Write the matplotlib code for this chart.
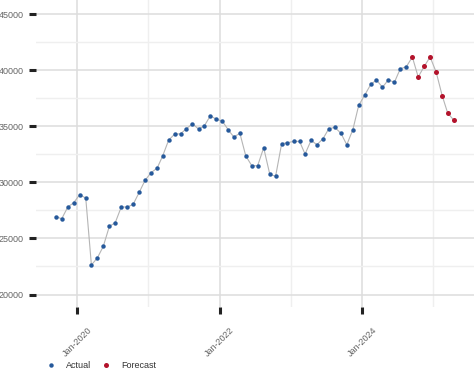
import matplotlib
matplotlib.use("Agg")
import matplotlib.pyplot as plt
import matplotlib.dates as mdates
from matplotlib.ticker import MultipleLocator
import pandas as pd

plt.rcParams['font.family'] = ['Liberation Sans', 'DejaVu Sans']

# monthly values, Sep-2019 .. Aug-2024 (actual), Sep-2024 .. Apr-2025 (forecast)
actual_values = [
    26930, 26760, 27800, 28180, 28900, 28600, 22630, 23280, 24300, 26080,
    26400, 27800, 27800, 28040, 29110, 30180, 30860, 31270, 32340, 33770,
    34280, 34330, 34780, 35220, 34750, 35040, 35940, 35620, 35460, 34660,
    34040, 34370, 32370, 31480, 31480, 33080, 30740, 30530, 33440, 33530,
    33650, 33650, 32520, 33740, 33350, 33890, 34780, 34900, 34370, 33350,
    34690, 36860, 37780, 38730, 39120, 38470, 39140, 38910, 40120, 40300,
]
forecast_values = [41170, 39390, 40340, 41170, 39830, 37720, 36180, 35550]

actual_dates = pd.date_range('2019-09-01', periods=len(actual_values), freq='MS') + pd.Timedelta(days=14)
forecast_dates = pd.date_range('2024-09-01', periods=len(forecast_values), freq='MS') + pd.Timedelta(days=14)

blue = '#26599b'
red = '#b3132b'

fig = plt.figure(figsize=(4.74, 3.90), dpi=100)
ax = fig.add_axes([36 / 474, 83 / 390, 1 - 36 / 474, 307 / 390])

# grey line joins actual and forecast
all_dates = list(actual_dates) + list(forecast_dates)
all_values = actual_values + forecast_values
ax.plot(all_dates, all_values, color='#b5b5b5', linewidth=0.8, zorder=2)
ax.plot(actual_dates, actual_values, 'o', color=blue, markersize=3.2,
        markeredgewidth=0, label='Actual', zorder=3)
ax.plot(forecast_dates, forecast_values, 'o', color=red, markersize=3.6,
        markeredgewidth=0, label='Forecast', zorder=3)

ax.set_xlim(pd.Timestamp('2019-06-05'), pd.Timestamp('2025-07-28'))
ax.set_ylim(18890, 46250)

ax.yaxis.set_major_locator(MultipleLocator(5000))
ax.yaxis.set_minor_locator(MultipleLocator(2500))
ax.xaxis.set_major_locator(mdates.YearLocator(2))
ax.xaxis.set_minor_locator(mdates.YearLocator(1))
ax.xaxis.set_major_formatter(mdates.DateFormatter('%b-%Y'))

ax.grid(which='major', color='#dddddd', linewidth=1.1)
ax.grid(which='minor', color='#efefef', linewidth=1.0)
ax.set_axisbelow(True)

for s in ax.spines.values():
    s.set_visible(False)

ax.tick_params(which='major', length=5, width=2.2, color='#222222',
               labelcolor='#666666', labelsize=6.5)
ax.tick_params(axis='y', which='major', pad=4)
ax.tick_params(axis='x', which='major', pad=8.5)
ax.tick_params(which='minor', length=0)
for lbl in ax.get_xticklabels():
    lbl.set_rotation(45)
    lbl.set_ha('center')

fig.legend(loc='center left', bbox_to_anchor=(46.5 / 474, 1 - 366 / 390),
           ncol=2, frameon=False, fontsize=6.5, borderpad=0, borderaxespad=0,
           handlelength=1.0, handletextpad=1.2, columnspacing=1.1,
           labelcolor='#333333')

fig.savefig('out.png', dpi=100)
